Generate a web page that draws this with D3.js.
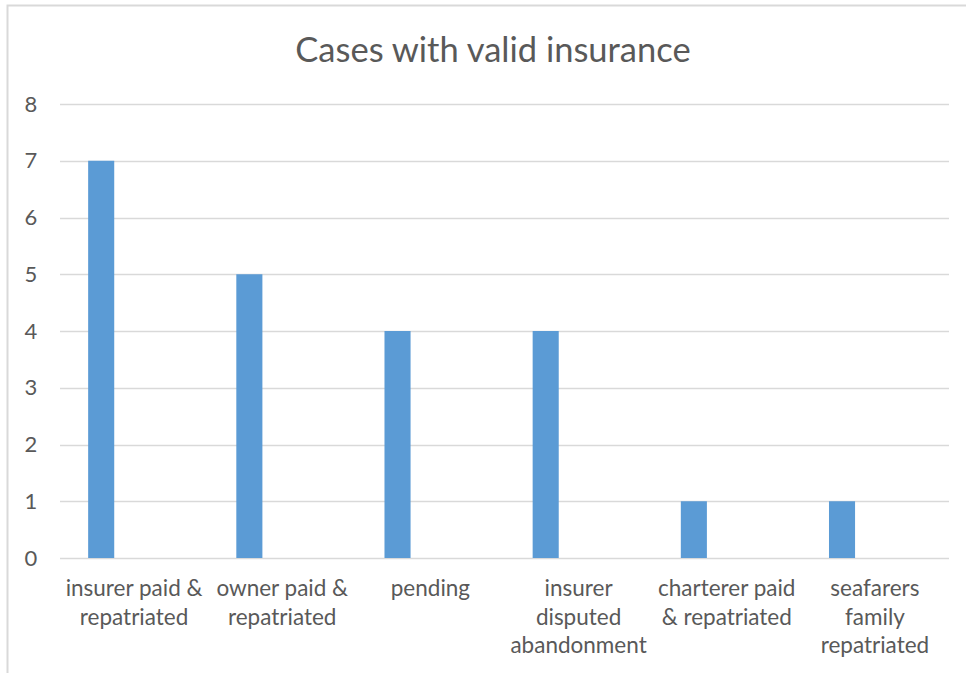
<!DOCTYPE html>
<html>
<head>
<meta charset="utf-8">
<script src="https://cdn.jsdelivr.net/npm/d3@7"></script>
<style>
  body { margin: 0; background: #fff; }
  svg { display: block; font-family: Lato, "Open Sans", sans-serif; }
</style>
</head>
<body>
<div id="chart"></div>
<script>
// Data
const categories = [
  ['insurer paid &', 'repatriated'],
  ['owner paid &', 'repatriated'],
  ['pending'],
  ['insurer', 'disputed', 'abandonment'],
  ['charterer paid', '& repatriated'],
  ['seafarers', 'family', 'repatriated']
];
const values = [7, 5, 4, 4, 1, 1];
const yTicks = [0, 1, 2, 3, 4, 5, 6, 7, 8];
const title = 'Cases with valid insurance';

const W = 966, H = 673;
const margin = { top: 104, right: 17, bottom: 115, left: 60 };

const svg = d3.select('#chart')
  .append('svg')
  .attr('width', W)
  .attr('height', H);

// outer chart frame (left and top edges visible)
svg.append('rect')
  .attr('x', 7.5).attr('y', 5.5)
  .attr('width', W + 10).attr('height', H + 10)
  .attr('fill', 'none')
  .attr('stroke', '#d9d9d9')
  .attr('stroke-width', 2);

const x = d3.scaleBand()
  .domain(d3.range(categories.length))
  .range([margin.left, W - margin.right]);

const y = d3.scaleLinear()
  .domain([0, 8])
  .range([H - margin.bottom, margin.top]);

// gridlines
svg.append('g')
  .selectAll('line')
  .data(yTicks)
  .join('line')
  .attr('x1', margin.left)
  .attr('x2', W - margin.right)
  .attr('y1', d => Math.round(y(d)) + 0.5)
  .attr('y2', d => Math.round(y(d)) + 0.5)
  .attr('stroke', '#d9d9d9')
  .attr('stroke-width', 1.3);

// y tick labels
svg.append('g')
  .selectAll('text')
  .data(yTicks)
  .join('text')
  .attr('x', 31)
  .attr('y', d => y(d))
  .attr('dy', '0.35em')
  .attr('text-anchor', 'middle')
  .attr('fill', '#595959')
  .attr('font-size', 22)
  .text(d => d);

// bars sit in the left part of each band (Excel style, with an empty second series)
const barW = x.bandwidth() * 0.176;
const barOff = x.bandwidth() * 0.19;
svg.append('g')
  .selectAll('rect')
  .data(values)
  .join('rect')
  .attr('x', (d, i) => x(i) + barOff)
  .attr('y', d => y(d))
  .attr('width', barW)
  .attr('height', d => y(0) - y(d))
  .attr('fill', '#5b9bd5');

// category labels
const labels = svg.append('g')
  .selectAll('text')
  .data(categories)
  .join('text')
  .attr('x', (d, i) => x(i) + x.bandwidth() / 2)
  .attr('y', 596)
  .attr('text-anchor', 'middle')
  .attr('fill', '#595959')
  .attr('font-size', 22.5);

labels.selectAll('tspan')
  .data(d => d)
  .join('tspan')
  .attr('x', function () { return d3.select(this.parentNode).attr('x'); })
  .attr('dy', (d, i) => i === 0 ? 0 : 28.5)
  .text(d => d);

// title
svg.append('text')
  .attr('x', 493)
  .attr('y', 50)
  .attr('dy', '0.35em')
  .attr('text-anchor', 'middle')
  .attr('fill', '#595959')
  .attr('font-size', 34.5)
  .text(title);
</script>
</body>
</html>
